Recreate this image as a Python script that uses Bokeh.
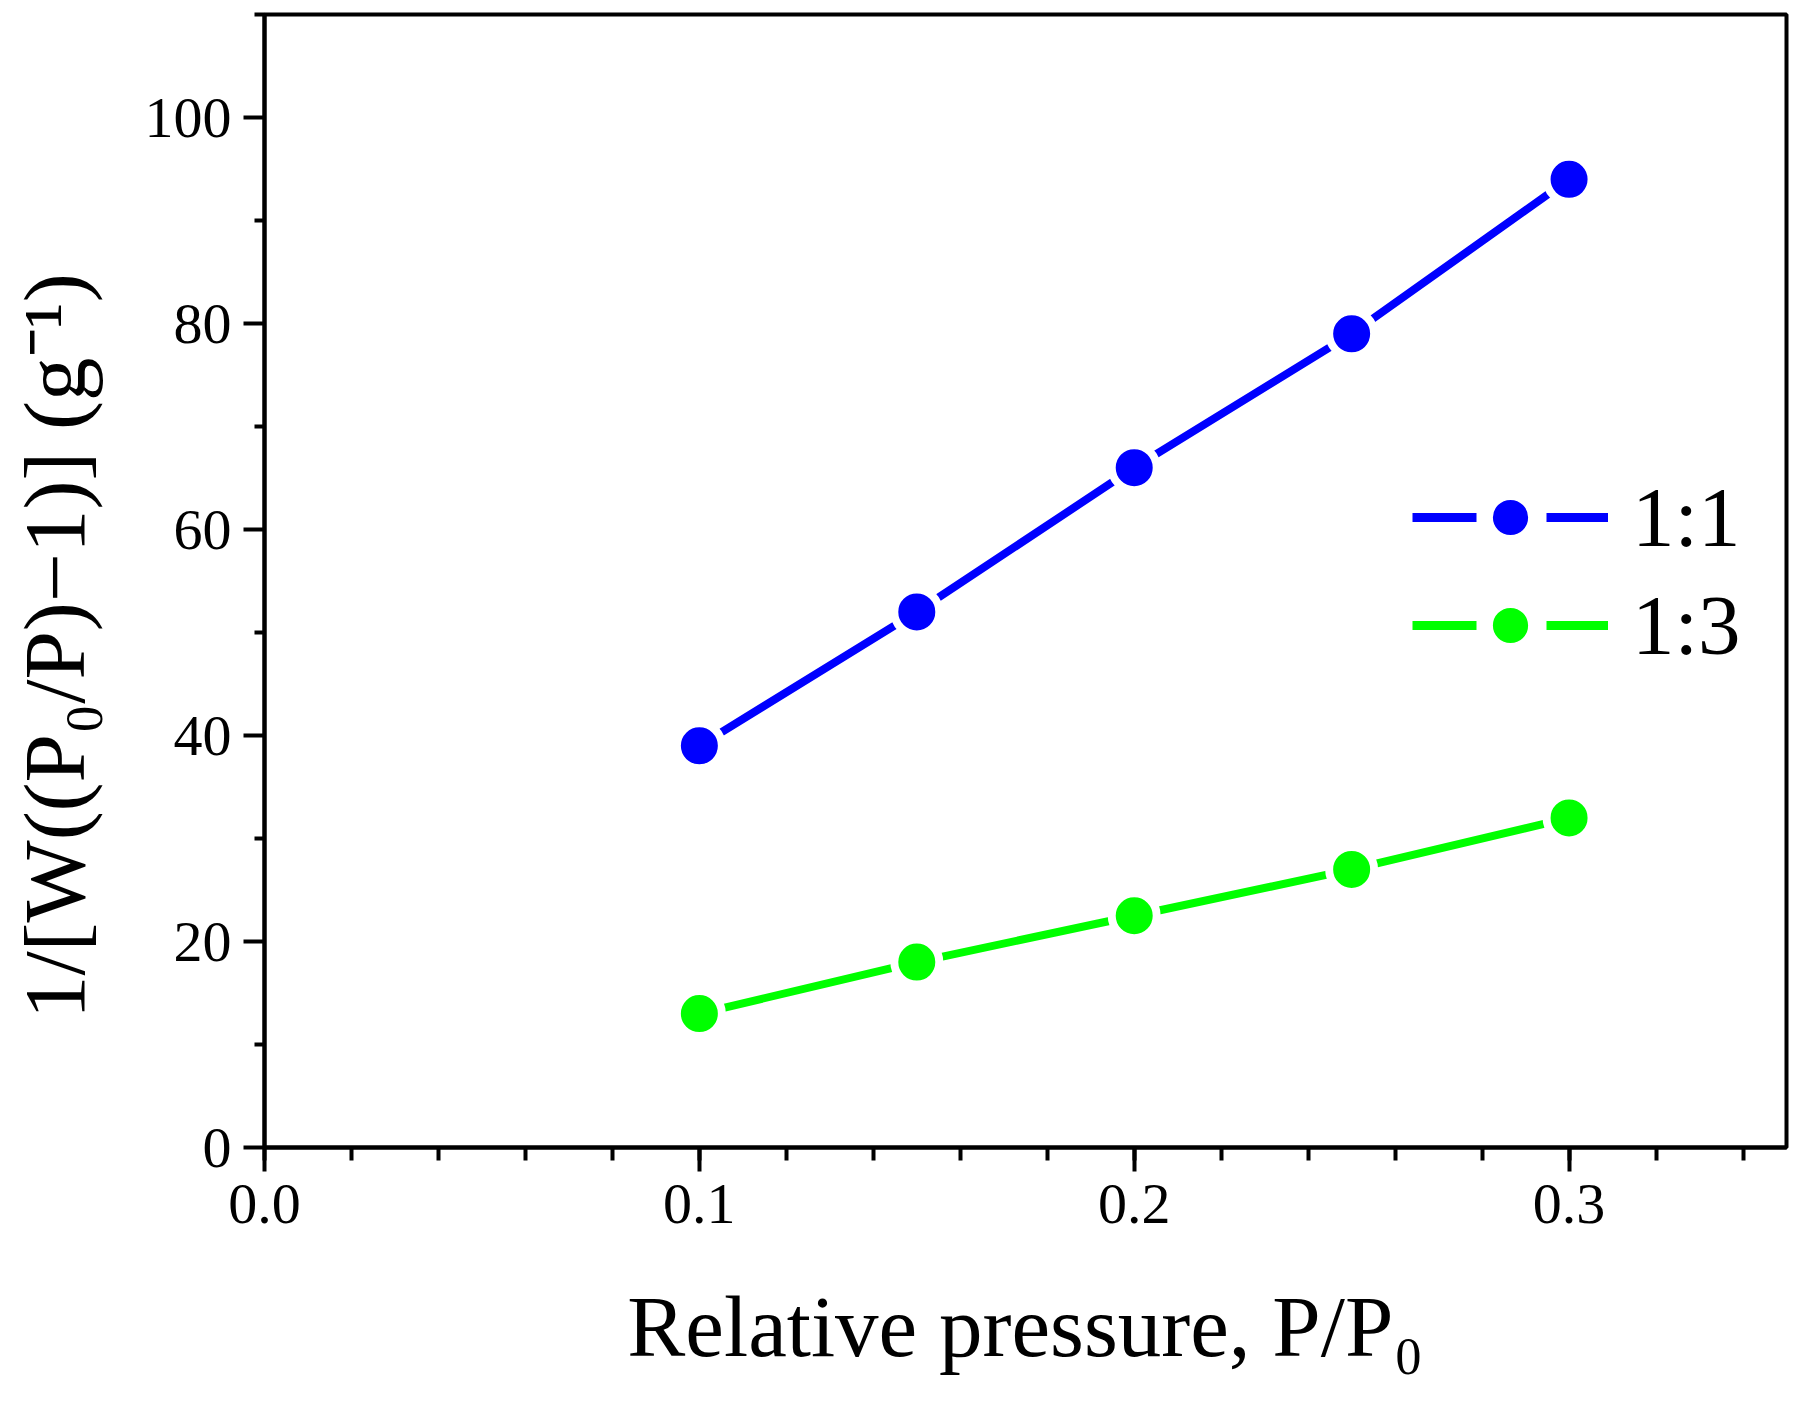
from bokeh.embed import file_html
from bokeh.resources import INLINE
from bokeh.models import (ColumnDataSource, FixedTicker, Legend, LegendItem,
                          NumeralTickFormatter, Range1d)
from bokeh.plotting import figure

# BET plot data
rel_pressure = [0.10, 0.15, 0.20, 0.25, 0.30]
bet_11 = [39.0, 52.0, 66.0, 79.0, 94.0]
bet_13 = [13.0, 18.0, 22.5, 27.0, 32.0]

series = [("1:1", bet_11, "#0000FF"), ("1:3", bet_13, "#00FF00")]

x_ticks = [0.0, 0.1, 0.2, 0.3]
y_ticks = [0, 20, 40, 60, 80, 100]

FONT = "Liberation Serif"
# the y title sits below the middle of the axis in the original; trailing
# no-break spaces push the visible text down
NBSP_PAD = "\u00a0" * 6

p = figure(
    width=1793, height=1393,
    x_range=Range1d(0, 0.35), y_range=Range1d(0, 110),
    output_backend="svg", toolbar_location=None,
    min_border_left=264, min_border_right=7,
    min_border_top=14, min_border_bottom=246,
    x_axis_label="Relative pressure, P/P\u2080",
    y_axis_label="1/[W((P\u2080/P)\u22121)] (g\u207b\u00b9)" + NBSP_PAD,
)
p.grid.visible = False
p.background_fill_color = "white"
p.border_fill_color = "white"
p.outline_line_color = "black"
p.outline_line_width = 4
p.outline_line_alpha = 1.0

for ax in (p.xaxis[0], p.yaxis[0]):
    ax.axis_line_width = 4
    ax.major_tick_line_width = 4
    ax.minor_tick_line_width = 4
    ax.major_tick_in = 0
    ax.minor_tick_in = 0
    ax.major_label_text_font = FONT
    ax.major_label_text_font_size = "58px"
    ax.major_label_text_color = "black"
    ax.axis_label_text_font = FONT
    ax.axis_label_text_font_size = "87px"
    ax.axis_label_text_font_style = "normal"
    ax.axis_label_text_color = "black"

p.xaxis.ticker = FixedTicker(ticks=x_ticks,
                             minor_ticks=[i * 0.02 for i in range(18)])
p.xaxis.formatter = NumeralTickFormatter(format="0.0")
p.xaxis.major_tick_out = 24
p.xaxis.minor_tick_out = 13
p.xaxis.major_label_standoff = 13
p.xaxis.axis_label_standoff = 52

p.yaxis.ticker = FixedTicker(ticks=y_ticks, minor_ticks=[10, 30, 50, 70, 90, 110])
p.yaxis.major_tick_out = 21
p.yaxis.minor_tick_out = 10
p.yaxis.major_label_standoff = 12
p.yaxis.axis_label_standoff = 39

nan = float("nan")
items = []
for name, vals, color in series:
    src = ColumnDataSource(dict(x=rel_pressure, y=vals))
    p.line("x", "y", source=src, line_color=color, line_width=8)
    sc = p.scatter("x", "y", source=src, size=45, fill_color=color,
                   line_color="white", line_width=8)
    # legend-only line (draws nothing in the plot) with a gap for the marker
    leg_line = p.line(x=[nan], y=[nan], line_color=color, line_width=9,
                      line_dash="64 70 62")
    items.append(LegendItem(label=name, renderers=[leg_line, sc]))

legend = Legend(
    items=items,
    location=(1148, 468),
    glyph_width=196, glyph_height=108,
    spacing=0, padding=0, margin=0,
    label_standoff=24,
    label_text_font=FONT, label_text_font_size="85px",
    label_text_color="black",
    background_fill_alpha=0, border_line_alpha=0,
)
p.add_layout(legend, "center")

open("out.html", "w").write(file_html(p, INLINE))
